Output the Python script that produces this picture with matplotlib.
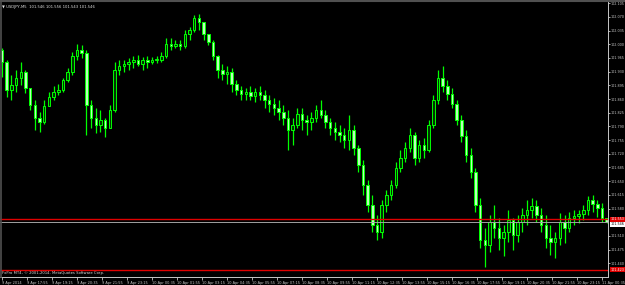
import numpy as np
import matplotlib
matplotlib.use("Agg")
import matplotlib.pyplot as plt
import matplotlib.transforms as mtransforms

# USDJPY candles (15 min steps from 9 Apr 16:35)
first_open = 101.985
closes = [101.955, 101.883, 101.896, 101.914, 101.929, 101.888, 101.845, 101.812, 101.801, 101.842,
          101.865, 101.878, 101.883, 101.909, 101.929, 101.970, 101.985, 101.978, 101.845, 101.812,
          101.794, 101.806, 101.786, 101.832, 101.934, 101.944, 101.949, 101.955, 101.960, 101.949,
          101.960, 101.955, 101.960, 101.960, 101.970, 102.001, 101.995, 102.001, 101.995, 102.026,
          102.036, 102.067, 102.057, 102.026, 102.006, 101.970, 101.934, 101.924, 101.929, 101.898,
          101.883, 101.873, 101.878, 101.868, 101.878, 101.870, 101.857, 101.847, 101.837, 101.827,
          101.812, 101.781, 101.794, 101.822, 101.806, 101.801, 101.812, 101.832, 101.819, 101.801,
          101.786, 101.776, 101.768, 101.755, 101.781, 101.735, 101.691, 101.640, 101.589, 101.538,
          101.520, 101.589, 101.615, 101.640, 101.684, 101.709, 101.735, 101.768, 101.709, 101.743,
          101.730, 101.794, 101.857, 101.914, 101.893, 101.873, 101.847, 101.806, 101.765, 101.717,
          101.674, 101.589, 101.500, 101.487, 101.546, 101.530, 101.505, 101.520, 101.551, 101.513,
          101.546, 101.564, 101.576, 101.587, 101.564, 101.538, 101.505, 101.495, 101.505, 101.546,
          101.530, 101.556, 101.561, 101.566, 101.576, 101.602, 101.592, 101.582, 101.556, 101.546]
highs = [101.990, 101.960, 101.921, 101.934, 101.955, 101.934, 101.888, 101.857, 101.827, 101.857,
         101.878, 101.893, 101.898, 101.914, 101.939, 101.980, 102.001, 101.998, 101.985, 101.857,
         101.837, 101.832, 101.812, 101.845, 101.955, 101.960, 101.960, 101.965, 101.970, 101.972,
         101.967, 101.970, 101.967, 101.970, 101.980, 102.016, 102.016, 102.011, 102.011, 102.036,
         102.044, 102.075, 102.077, 102.041, 102.021, 102.011, 101.972, 101.949, 101.944, 101.939,
         101.909, 101.893, 101.888, 101.893, 101.888, 101.893, 101.883, 101.870, 101.863, 101.857,
         101.845, 101.832, 101.812, 101.837, 101.837, 101.819, 101.827, 101.845, 101.857, 101.832,
         101.812, 101.801, 101.794, 101.786, 101.819, 101.794, 101.743, 101.704, 101.653, 101.615,
         101.564, 101.602, 101.628, 101.653, 101.699, 101.730, 101.750, 101.786, 101.776, 101.755,
         101.760, 101.806, 101.870, 101.934, 101.944, 101.909, 101.888, 101.857, 101.819, 101.781,
         101.735, 101.684, 101.607, 101.530, 101.564, 101.589, 101.556, 101.538, 101.577, 101.556,
         101.564, 101.582, 101.602, 101.607, 101.602, 101.582, 101.564, 101.538, 101.520, 101.569,
         101.564, 101.571, 101.577, 101.577, 101.589, 101.612, 101.615, 101.602, 101.594, 101.556]
lows = [101.916, 101.865, 101.857, 101.878, 101.896, 101.875, 101.832, 101.781, 101.776, 101.796,
        101.842, 101.857, 101.870, 101.878, 101.903, 101.921, 101.960, 101.965, 101.768, 101.786,
        101.773, 101.776, 101.763, 101.786, 101.827, 101.921, 101.929, 101.934, 101.939, 101.944,
        101.934, 101.939, 101.949, 101.952, 101.955, 101.965, 101.985, 101.990, 101.985, 101.990,
        102.011, 102.031, 102.036, 102.011, 101.998, 101.960, 101.914, 101.909, 101.898, 101.878,
        101.870, 101.857, 101.857, 101.857, 101.852, 101.857, 101.837, 101.827, 101.819, 101.806,
        101.794, 101.730, 101.743, 101.786, 101.781, 101.768, 101.781, 101.801, 101.812, 101.786,
        101.768, 101.755, 101.750, 101.735, 101.730, 101.717, 101.674, 101.615, 101.571, 101.520,
        101.500, 101.505, 101.571, 101.602, 101.633, 101.674, 101.699, 101.725, 101.691, 101.699,
        101.709, 101.725, 101.786, 101.847, 101.878, 101.857, 101.837, 101.794, 101.750, 101.699,
        101.658, 101.571, 101.479, 101.431, 101.469, 101.505, 101.474, 101.459, 101.495, 101.474,
        101.495, 101.520, 101.538, 101.556, 101.546, 101.520, 101.479, 101.461, 101.454, 101.487,
        101.492, 101.520, 101.538, 101.543, 101.551, 101.564, 101.571, 101.559, 101.546, 101.543]

price_ticks = [102.105, 102.070, 102.035, 102.000, 101.965, 101.930, 101.895, 101.860, 101.825,
               101.790, 101.755, 101.720, 101.685, 101.650, 101.615, 101.580, 101.510,
               101.475, 101.440]
time_labels = ["9 Apr 2014", "9 Apr 17:55", "9 Apr 19:15", "9 Apr 20:35", "9 Apr 21:55",
               "9 Apr 23:15", "10 Apr 00:35", "10 Apr 01:55", "10 Apr 03:15", "10 Apr 04:35",
               "10 Apr 05:55", "10 Apr 07:15", "10 Apr 08:35", "10 Apr 09:55", "10 Apr 11:15",
               "10 Apr 12:35", "10 Apr 13:55", "10 Apr 15:15", "10 Apr 16:35", "10 Apr 17:55",
               "10 Apr 19:15", "10 Apr 20:35", "10 Apr 21:55", "10 Apr 23:15", "11 Apr 00:35"]
red_levels = [101.553, 101.423]
bid = 101.546

fs = 2.7   # tiny MT4 style text
xfs = 2.5
yfs = 2.4

# minutes since 9 Apr 16:35
t = np.arange(len(closes)) * 15
opens = np.array([first_open] + closes[:-1])
closes = np.array(closes)
highs = np.maximum(np.array(highs), np.maximum(opens, closes))
lows = np.minimum(np.array(lows), np.minimum(opens, closes))

fig = plt.figure(figsize=(6.25, 2.85), dpi=100, facecolor="black")
ax = fig.add_axes([0.0, 0.028, 0.9728, 0.965])
ax.set_facecolor("black")

lime = "#00ff00"
ax.vlines(t, lows, highs, color=lime, lw=0.9, zorder=2)
up = closes >= opens
body_lo = np.minimum(opens, closes)
body_h = np.maximum(np.abs(closes - opens), 0.0015)
ax.bar(t[up], body_h[up], bottom=body_lo[up], width=8, color="#003300",
       edgecolor=lime, linewidth=0.7, zorder=3)
ax.bar(t[~up], body_h[~up], bottom=body_lo[~up], width=8, color="#b8ffb8",
       edgecolor=lime, linewidth=0.7, zorder=3)

for lv in red_levels:
    ax.axhline(lv, color="#e00000", lw=1.0, zorder=4)
ax.axhline(bid, color="#a0a0a0", lw=0.7, zorder=4)

ax.set_xlim(-6.4, 1939.2)
ax.set_ylim(101.405, 102.108)

ax.yaxis.tick_right()
ax.set_yticks(price_ticks)
ax.set_yticklabels(["%.3f" % p for p in price_ticks])
ax.set_xticks(np.arange(len(time_labels)) * 80)
ax.set_xticklabels(time_labels, ha="left")
ax.tick_params(axis="y", colors="#c8c8c8", labelsize=yfs, length=1.5, width=0.6, pad=0.6)
ax.tick_params(axis="x", colors="#c8c8c8", labelsize=xfs, length=2, width=0.6, pad=0.8)

for s in ["top", "left"]:
    ax.spines[s].set_visible(False)
ax.spines["right"].set_color("#c8c8c8")
ax.spines["bottom"].set_color("#c8c8c8")
ax.spines["right"].set_linewidth(0.7)
ax.spines["bottom"].set_linewidth(0.7)

# top frame and left edge
fig.add_artist(plt.Line2D([0, 1], [0.996, 0.996], color="#505050", lw=1.5))
fig.add_artist(plt.Line2D([0.001, 0.001], [0.028, 1], color="#505050", lw=1.2))

trans = mtransforms.blended_transform_factory(ax.transAxes, ax.transData)
for lv in red_levels:
    ax.text(1.004, lv, "%.3f" % lv, transform=trans, fontsize=yfs, color="white",
            va="center", ha="left", clip_on=False,
            bbox=dict(boxstyle="square,pad=0.15", fc="#e00000", ec="none"), zorder=6)
ax.text(1.004, bid - 0.006, "%.3f" % bid, transform=trans, fontsize=yfs, color="black",
        va="center", ha="left", clip_on=False,
        bbox=dict(boxstyle="square,pad=0.15", fc="white", ec="none"), zorder=6)

ax.text(0.004, 0.988, "\u25bc USDJPY,M5  %.3f %.3f %.3f %.3f" % (101.546, 101.556, 101.543, 101.546),
        transform=ax.transAxes, fontsize=fs, color="#e0e0e0", va="top", ha="left")
ax.text(0.004, 0.006, "FxPro MT4, \u00a9 2001-2014, MetaQuotes Software Corp.",
        transform=ax.transAxes, fontsize=fs, color="#e0e0e0", va="bottom", ha="left")

fig.savefig("out.png", dpi=100, facecolor="black")
